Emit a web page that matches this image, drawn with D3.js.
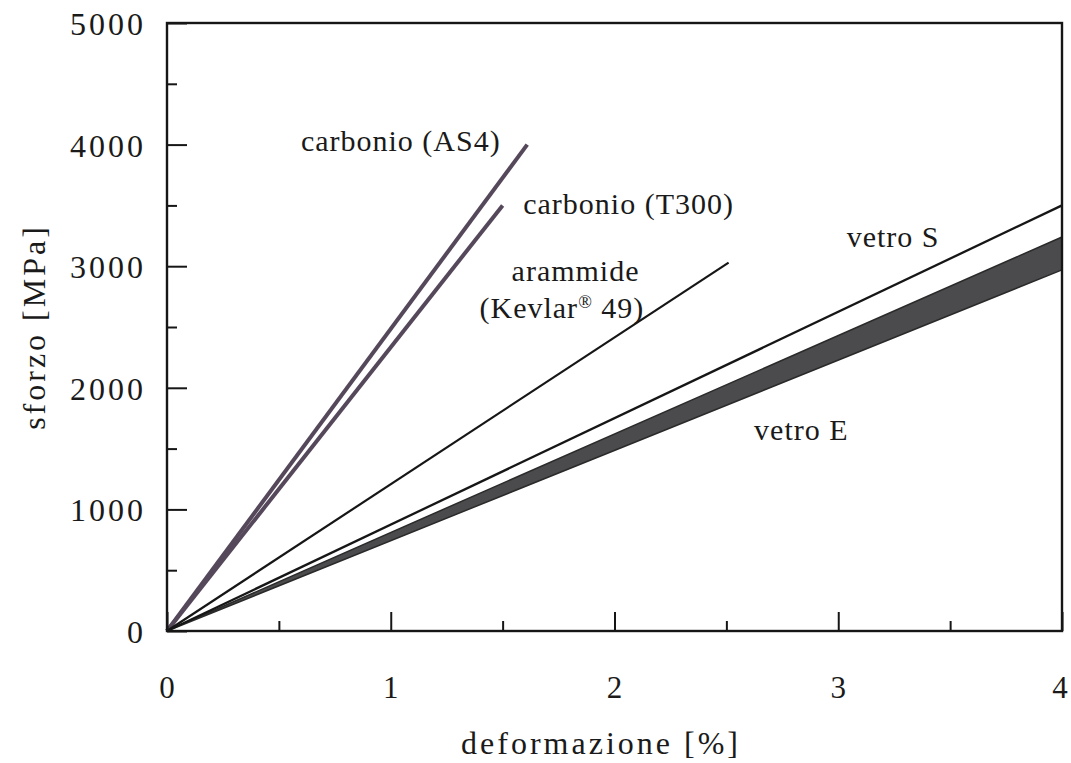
<!DOCTYPE html>
<html>
<head>
<meta charset="utf-8">
<script src="https://cdn.jsdelivr.net/npm/d3@7"></script>
<style>
  html, body { margin: 0; padding: 0; background: #fff; }
  svg { display: block; }
  text { font-family: "Liberation Serif", "DejaVu Serif", serif; fill: #1a1a1a; }
</style>
</head>
<body>
<svg id="chart" width="1071" height="763"></svg>
<script>
// Fibre materials: end point of each stress–strain line (strain %, stress MPa)
const fibres = ["carbonio (AS4)", "carbonio (T300)", "arammide (Kevlar® 49)", "vetro S"];
const strainAtBreak = [1.61, 1.50, 2.51, 4.00];
const stressAtBreak = [4000, 3500, 3030, 3500];

// E-glass drawn as a band between two lines up to the axis limit
const glassEStrain = 4.0;
const glassEStressLow = 2970;
const glassEStressHigh = 3240;

// Axis ticks
const xMajorTicks = [0, 1, 2, 3, 4];
const xMinorTicks = [0.5, 1.5, 2.5, 3.5];
const yMajorTicks = [0, 1000, 2000, 3000, 4000, 5000];
const yMinorTicks = [500, 1500, 2500, 3500, 4500];

const svg = d3.select("#chart");
const plot = { left: 167, right: 1062, top: 23, bottom: 631 };

const x = d3.scaleLinear().domain([0, 4]).range([plot.left, plot.right]);
const y = d3.scaleLinear().domain([0, 5000]).range([plot.bottom, plot.top]);

const ink = "#161616";

// E-glass band
const band = [
  [0, 0],
  [glassEStrain, glassEStressHigh],
  [glassEStrain, glassEStressLow]
];
svg.append("path")
  .attr("d", d3.line().x(d => x(d[0])).y(d => y(d[1]))(band) + "Z")
  .attr("fill", "#4b4b4d")
  .attr("stroke", "#2a2a2a")
  .attr("stroke-width", 1.5)
  .attr("stroke-linejoin", "round");

// Fibre lines from the origin to the break point
const lineColours = ["#54485a", "#54485a", ink, ink];
const lineWidths = [4, 4, 2.2, 2.3];
fibres.forEach((name, i) => {
  const pts = [[0, 0], [strainAtBreak[i], stressAtBreak[i]]];
  svg.append("path")
    .attr("d", d3.line().x(d => x(d[0])).y(d => y(d[1]))(pts))
    .attr("fill", "none")
    .attr("stroke", lineColours[i])
    .attr("stroke-width", lineWidths[i])
    .attr("stroke-linecap", "butt");
});

// Axes with inward ticks
function inwardAxis(axisFn, scale, ticks, size) {
  return axisFn(scale).tickValues(ticks).tickSize(size).tickFormat("");
}
const yAxisMajor = svg.append("g").attr("transform", `translate(${plot.left},0)`)
  .call(inwardAxis(d3.axisLeft, y, yMajorTicks, -20));
const yAxisMinor = svg.append("g").attr("transform", `translate(${plot.left},0)`)
  .call(inwardAxis(d3.axisLeft, y, yMinorTicks, -10));
const xAxisMajor = svg.append("g").attr("transform", `translate(0,${plot.bottom})`)
  .call(inwardAxis(d3.axisBottom, x, xMajorTicks, -19));
const xAxisMinor = svg.append("g").attr("transform", `translate(0,${plot.bottom})`)
  .call(inwardAxis(d3.axisBottom, x, xMinorTicks, -10));
[yAxisMajor, yAxisMinor, xAxisMajor, xAxisMinor].forEach(g => {
  g.select(".domain").remove();
  g.selectAll(".tick line").attr("stroke", ink).attr("stroke-width", 2);
});

// Frame
svg.append("rect")
  .attr("x", plot.left).attr("y", plot.top)
  .attr("width", plot.right - plot.left).attr("height", plot.bottom - plot.top)
  .attr("fill", "none").attr("stroke", ink).attr("stroke-width", 2.4);

// Tick labels
svg.append("g").selectAll("text").data(yMajorTicks).join("text")
  .attr("x", 146).attr("y", d => y(d) + 12)
  .attr("text-anchor", "end")
  .attr("font-size", 32).attr("letter-spacing", 3)
  .text(d => d);

svg.append("g").selectAll("text").data(xMajorTicks).join("text")
  .attr("x", d => x(d) + (d === 4 ? -2 : 0)).attr("y", 698)
  .attr("text-anchor", "middle")
  .attr("font-size", 31)
  .text(d => d);

// Axis titles
svg.append("text")
  .attr("transform", "translate(45,327) rotate(-90)")
  .attr("text-anchor", "middle")
  .attr("font-size", 32).attr("letter-spacing", 3)
  .text("sforzo [MPa]");

svg.append("text")
  .attr("x", 601).attr("y", 754)
  .attr("text-anchor", "middle")
  .attr("font-size", 32).attr("letter-spacing", 3)
  .text("deformazione [%]");

// Material labels (placed in data coordinates)
const labels = [
  { t: "carbonio (AS4)", sx: 1.045, sy: 3950 },
  { t: "carbonio (T300)", sx: 2.063, sy: 3430 },
  { t: "arammide", sx: 1.826, sy: 2880 },
  { t: "vetro S", sx: 3.245, sy: 3155 },
  { t: "vetro E", sx: 2.835, sy: 1570 }
];
svg.append("g").selectAll("text").data(labels).join("text")
  .attr("x", d => x(d.sx)).attr("y", d => y(d.sy))
  .attr("text-anchor", "middle")
  .attr("font-size", 30).attr("letter-spacing", 1)
  .text(d => d.t);

// Kevlar label with superscript registered mark
const kev = svg.append("text")
  .attr("x", x(1.765)).attr("y", y(2575))
  .attr("text-anchor", "middle")
  .attr("font-size", 30).attr("letter-spacing", 1);
kev.append("tspan").text("(Kevlar");
kev.append("tspan").attr("dy", -10).attr("font-size", 18).text("®");
kev.append("tspan").attr("dy", 10).text(" 49)");
</script>
</body>
</html>
